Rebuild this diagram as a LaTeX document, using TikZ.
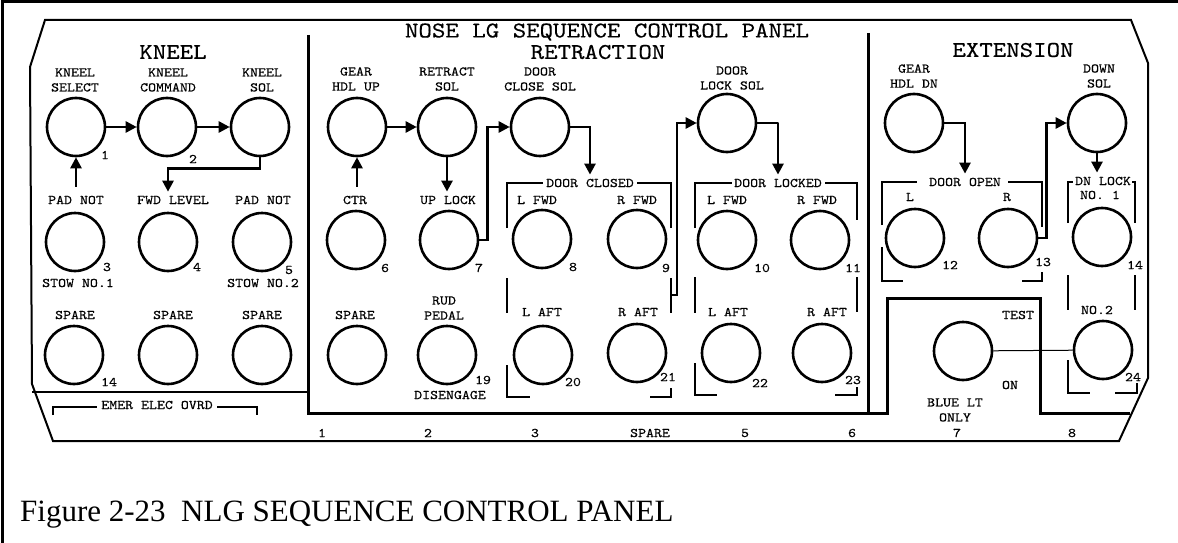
\documentclass[tikz,border=0pt]{standalone}
\usepackage{fontspec}
\usepackage{tikz}
\usetikzlibrary{arrows.meta}
\newfontfamily\capfont{Liberation Serif}
\newfontfamily\panelfont{lmmono10-regular}[Extension=.otf, FakeStretch=1.14, FakeBold=0.4]
\newcommand{\pnl}{\panelfont\fontsize{13.3}{15}\selectfont}
\newcommand{\hdr}{\panelfont\fontsize{22.5}{19}\selectfont}

\begin{document}
\begin{tikzpicture}[x=1pt, y=-1pt,
  lamp/.style={circle, draw, line width=2.6pt, minimum size=58pt, inner sep=0pt},
  txt/.style={font=\pnl, inner sep=1pt, align=center},
  num/.style={font=\pnl, inner sep=0pt},
  head/.style={font=\hdr, inner sep=0pt},
  flow/.style={line width=2.6pt, -{Triangle[length=11pt, width=11pt]}},
  brk/.style={line width=2.2pt},
  wall/.style={line width=3pt}]
\useasboundingbox (0,0) rectangle (1178,543);

% frame and panel outline
\draw[line width=3pt] (2,560) -- (2,2) -- (1190,2);
\draw[line width=2pt] (45,20) -- (1131,20) -- (1148,63) -- (1148,378) -- (1119,441)
  -- (53,441) -- (32,384) -- (30,67) -- cycle;
\draw[wall] (308,35) -- (308,413) -- (868,413);
\draw[wall] (868,33) -- (868,413) -- (887,413) -- (887,298) -- (1040,298) -- (1040,413) -- (1130,413);
\draw[line width=1.5pt] (32,392) -- (308,392);

% headings
\node[head] (title) at (607,32) {NOSE LG SEQUENCE CONTROL PANEL};
\node[head] (retr) at (598,52) {RETRACTION};
\node[head] (kneel) at (173,52) {KNEEL};
\node[head] (ext) at (1013,50) {EXTENSION};

% kneel
\node[txt] (tksel) at (75,80) {KNEEL\\SELECT};
\node[txt] (tkcmd) at (168,80) {KNEEL\\COMMAND};
\node[txt] (tksol) at (262,80) {KNEEL\\SOL};
\node[lamp] (ksel) at (76,127) {};
\node[lamp] (kcmd) at (167,127) {};
\node[lamp] (ksol) at (260,127) {};
\node[num] (n1) at (105,155) {1};
\node[num] (n2) at (193,159) {2};

\node[txt] (tpad1) at (76,200) {PAD NOT};
\node[txt] (tfwd) at (173,200) {FWD LEVEL};
\node[txt] (tpad2) at (263,200) {PAD NOT};
\node[lamp] (pad1) at (75,242) {};
\node[lamp] (fwdl) at (168,242) {};
\node[lamp] (pad2) at (262,242) {};
\node[num] (n3) at (107,267) {3};
\node[num] (n4) at (197,267) {4};
\node[num] (n5) at (289,270) {5};
\node[txt] (tstow1) at (78,283) {STOW NO.1};
\node[txt] (tstow2) at (263,283) {STOW NO.2};

\node[txt] (tsp1) at (75,315) {SPARE};
\node[txt] (tsp2) at (173,315) {SPARE};
\node[txt] (tsp3) at (262,315) {SPARE};
\node[lamp] (sp1) at (74,355) {};
\node[lamp] (sp2) at (168,355) {};
\node[lamp] (sp3) at (262,355) {};
\node[num] (n14a) at (109,382) {14};

\node[txt] (temer) at (157,405) {EMER ELEC OVRD};
\draw[brk] (53,415) |- (97,407);
\draw[brk] (217,407) -| (257,415);

\draw[flow] (ksel) -- (kcmd);
\draw[flow] (kcmd) -- (ksol);
\draw[flow, shorten >=3pt] (ksol.south) -- ++(0,11) -| (fwdl.north |- tfwd.north);
\draw[flow, shorten <=8pt] (ksel.south |- tpad1.north) -- (ksel.south);

% retraction
\node[txt] (tghu) at (356,79) {GEAR\\HDL UP};
\node[txt] (trsol) at (447,79) {RETRACT\\SOL};
\node[txt] (tdcs) at (540,79) {DOOR\\CLOSE SOL};
\node[txt] (tdls) at (732,78) {DOOR\\LOCK SOL};
\node[lamp] (ghu) at (357,127) {};
\node[lamp] (rsol) at (447,127) {};
\node[lamp] (dcs) at (540,127) {};
\node[lamp] (dls) at (727,123) {};

\node[txt] (tctr) at (355,200) {CTR};
\node[txt] (tuplk) at (448,200) {UP LOCK};
\node[txt] (tdclosed) at (590,183) {DOOR CLOSED};
\node[txt] (tdlocked) at (778,183) {DOOR LOCKED};
\node[txt] (tcfl) at (537,200) {L FWD};
\node[txt] (tcfr) at (637,200) {R FWD};
\node[txt] (tlfl) at (727,200) {L FWD};
\node[txt] (tlfr) at (817,200) {R FWD};
\node[lamp] (ctr) at (356,240) {};
\node[lamp] (uplk) at (449,240) {};
\node[lamp] (cfl) at (542,239) {};
\node[lamp] (cfr) at (637,239) {};
\node[lamp] (lfl) at (727,240) {};
\node[lamp] (lfr) at (820,240) {};
\node[num] (n6) at (385,268) {6};
\node[num] (n7) at (479,268) {7};
\node[num] (n8) at (573,267) {8};
\node[num] (n9) at (666,268) {9};
\node[num] (n10) at (762,268) {10};
\node[num] (n11) at (853,268) {11};

\node[txt] (tsp4) at (355,315) {SPARE};
\node[txt] (trud) at (444,308) {RUD\\PEDAL};
\node[txt] (tcal) at (542,312) {L AFT};
\node[txt] (tcar) at (638,312) {R AFT};
\node[txt] (tlal) at (728,312) {L AFT};
\node[txt] (tlar) at (827,312) {R AFT};
\node[lamp] (sp4) at (357,355) {};
\node[lamp] (rud) at (447,355) {};
\node[lamp] (cal) at (543,355) {};
\node[lamp] (car) at (637,353) {};
\node[lamp] (lal) at (731,353) {};
\node[lamp] (lar) at (822,353) {};
\node[num] (n19) at (483,380) {19};
\node[num] (n20) at (573,382) {20};
\node[num] (n21) at (668,377) {21};
\node[num] (n22) at (760,383) {22};
\node[num] (n23) at (853,380) {23};
\node[txt] (tdis) at (450,395) {DISENGAGE};

% door closed / door locked brackets
\draw[brk] (507,228) |- (543,183);
\draw[brk] (637,183) -| (671,228);
\draw[brk] (507,278) -- (507,313);
\draw[brk] (671,278) -- (671,313);
\draw[brk] (507,365) |- (530,397);
\draw[brk] (650,397) -| (671,388);
\draw[brk] (695,228) |- (732,183);
\draw[brk] (825,183) -| (857,220);
\draw[brk] (695,277) -- (695,313);
\draw[brk] (857,277) -- (857,312);
\draw[brk] (695,363) |- (717,395);
\draw[brk] (835,395) -| (857,387);
\coordinate (cbr) at (671,295);

\draw[flow] (ghu) -- (rsol);
\draw[flow, shorten <=8pt] (ghu.south |- tctr.north) -- (ghu.south);
\draw[flow, shorten >=3pt] (rsol.south) -- (rsol.south |- tuplk.north);
\draw[flow] (uplk.east) -- ++(8,0) |- (dcs.west);
\draw[flow, shorten >=3pt] (dcs.east) -- ++(16,0) -| (tdclosed.north);
\draw[flow] (cbr) -- ++(6,0) |- (dls.west);
\draw[flow, shorten >=3pt] (dls.east) -- ++(21,0) -| (tdlocked.north);

% extension
\node[txt] (tghd) at (914,76) {GEAR\\HDL DN};
\node[txt] (tdsol) at (1099,76) {DOWN\\SOL};
\node[lamp] (ghd) at (914,123) {};
\node[lamp] (dsol) at (1097,123) {};
\node[txt] (tdopen) at (965,182) {DOOR OPEN};
\node[txt] (tdnlock) at (1103,181) {DN LOCK};
\node[txt] (tdol) at (910,197) {L};
\node[txt] (tdor) at (1007,197) {R};
\node[txt] (tno1) at (1100,195) {NO. 1};
\node[lamp] (dol) at (915,238) {};
\node[lamp] (dor) at (1008,238) {};
\node[lamp] (dn1) at (1102,237) {};
\node[num] (n12) at (950,265) {12};
\node[num] (n13) at (1043,262) {13};
\node[num] (n14b) at (1135,265) {14};

\node[txt] (tno2) at (1097,310) {NO.2};
\node[txt] (ttest) at (1018,315) {TEST};
\node[txt] (ton) at (1010,385) {ON};
\node[lamp] (tst) at (963,351) {};
\node[lamp] (dn2) at (1103,350) {};
\node[num] (n24) at (1133,377) {24};
\node[txt] (tblue) at (955,410) {BLUE LT\\ONLY};

\draw[brk] (882,225) |- (917,182);
\draw[brk] (1008,182) -| (1042,227);
\draw[brk] (882,247) |- (903,281);
\draw[brk] (1022,281) -| (1042,272);
\draw[brk] (1068,223) |- (1073,182);
\draw[brk] (1132,182) -| (1135,223);
\draw[brk] (1068,275) -- (1068,310);
\draw[brk] (1135,275) -- (1135,310);
\draw[brk] (1068,360) |- (1090,393);
\draw[brk] (1115,393) -| (1137,383);

\draw[flow, shorten >=3pt] (ghd.east) -- ++(20,0) -| (tdopen.north);
\draw[flow] (dor.east) -- ++(8,0) |- (dsol.west);
\draw[flow, shorten >=3pt] (dsol.south) -- (dsol.south |- tdnlock.north);
\draw[line width=1pt] (tst) -- (dn2);

% bottom row numbers
\node[num] (b1) at (322,433) {1};
\node[num] (b2) at (428,433) {2};
\node[num] (b3) at (535,433) {3};
\node[num] (b4) at (650,433) {SPARE};
\node[num] (b5) at (745,433) {5};
\node[num] (b6) at (852,433) {6};
\node[num] (b7) at (957,433) {7};
\node[num] (b8) at (1072,433) {8};

% caption
\node[font=\capfont\fontsize{31}{33}\selectfont, anchor=west, inner sep=0pt] (cap) at (20,515)
  {Figure 2-23\ \ NLG SEQUENCE CONTROL PANEL};
\end{tikzpicture}
\end{document}
